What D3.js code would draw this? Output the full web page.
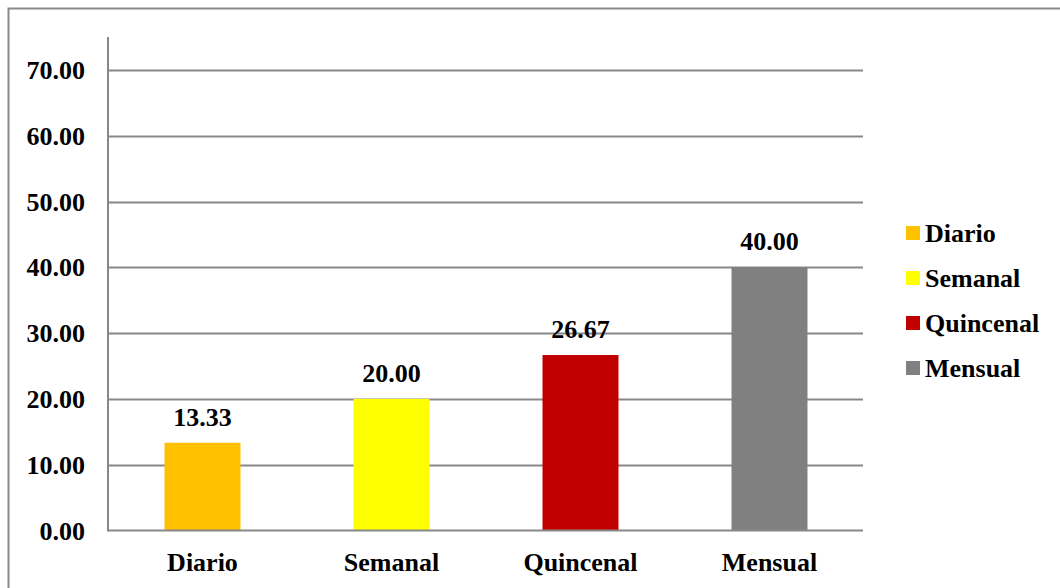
<!DOCTYPE html>
<html><head><meta charset="utf-8">
<script src="https://cdn.jsdelivr.net/npm/d3@7"></script>
<style>body{margin:0;background:#fff}svg{display:block}text{font-family:"Liberation Serif","Times New Roman",serif;font-weight:bold;fill:#000}</style>
</head><body>
<svg id="c" width="1060" height="588"></svg>
<script>
const categories = ["Diario","Semanal","Quincenal","Mensual"];
const values = [13.33, 20.00, 26.67, 40.00];
const colors = ["#FFC000","#FFFF00","#C00000","#808080"];
const yTicks = [0,10,20,30,40,50,60,70];

const svg = d3.select("#c");
const fs = 26;
// outer border
svg.append("path").attr("d","M8.5,600 V8.5 H1070").attr("fill","none").attr("stroke","#888").attr("stroke-width",2);

const x0 = 108, x1 = 864, yTop = 37, yBot = 530.5;
const x = d3.scaleBand().domain(categories).range([x0,x1]).paddingInner(0.598).paddingOuter(0.299);
const y = d3.scaleLinear().domain([0,75]).range([yBot,yTop]);

// gridlines
svg.append("g").selectAll("line").data(yTicks.filter(d=>d>0)).join("line")
  .attr("x1",x0).attr("x2",x1-1).attr("y1",d=>Math.round(y(d))+0.5).attr("y2",d=>Math.round(y(d))+0.5)
  .attr("stroke","#888").attr("stroke-width",2);

// bars
svg.append("g").selectAll("rect").data(values).join("rect")
  .attr("x",(d,i)=>x(categories[i])).attr("width",x.bandwidth())
  .attr("y",d=>y(d)).attr("height",d=>yBot-y(d)).attr("fill",(d,i)=>colors[i]);

// axes lines
svg.append("line").attr("x1",x0).attr("x2",x0).attr("y1",yTop).attr("y2",yBot+1).attr("stroke","#888").attr("stroke-width",2);
svg.append("line").attr("x1",x0).attr("x2",x1-1).attr("y1",yBot).attr("y2",yBot).attr("stroke","#888").attr("stroke-width",2);

// y tick labels
svg.append("g").selectAll("text").data(yTicks).join("text")
  .attr("x",85).attr("y",d=>y(d)+9).attr("text-anchor","end").attr("font-size",fs)
  .text(d=>d3.format(".2f")(d));

// x labels
svg.append("g").selectAll("text").data(categories).join("text")
  .attr("x",d=>x(d)+x.bandwidth()/2).attr("y",571).attr("text-anchor","middle").attr("font-size",fs)
  .text(d=>d);

// data labels
svg.append("g").selectAll("text").data(values).join("text")
  .attr("x",(d,i)=>x(categories[i])+x.bandwidth()/2).attr("y",d=>y(d)-17).attr("text-anchor","middle").attr("font-size",fs)
  .text(d=>d3.format(".2f")(d));

// legend
const lg = svg.append("g").selectAll("g").data(categories).join("g")
  .attr("transform",(d,i)=>`translate(906,${233+i*45})`);
lg.append("rect").attr("x",0).attr("y",-7).attr("width",14).attr("height",14).attr("fill",(d,i)=>colors[i]);
lg.append("text").attr("x",19).attr("y",9).attr("font-size",fs).text(d=>d);
</script>
</body></html>
